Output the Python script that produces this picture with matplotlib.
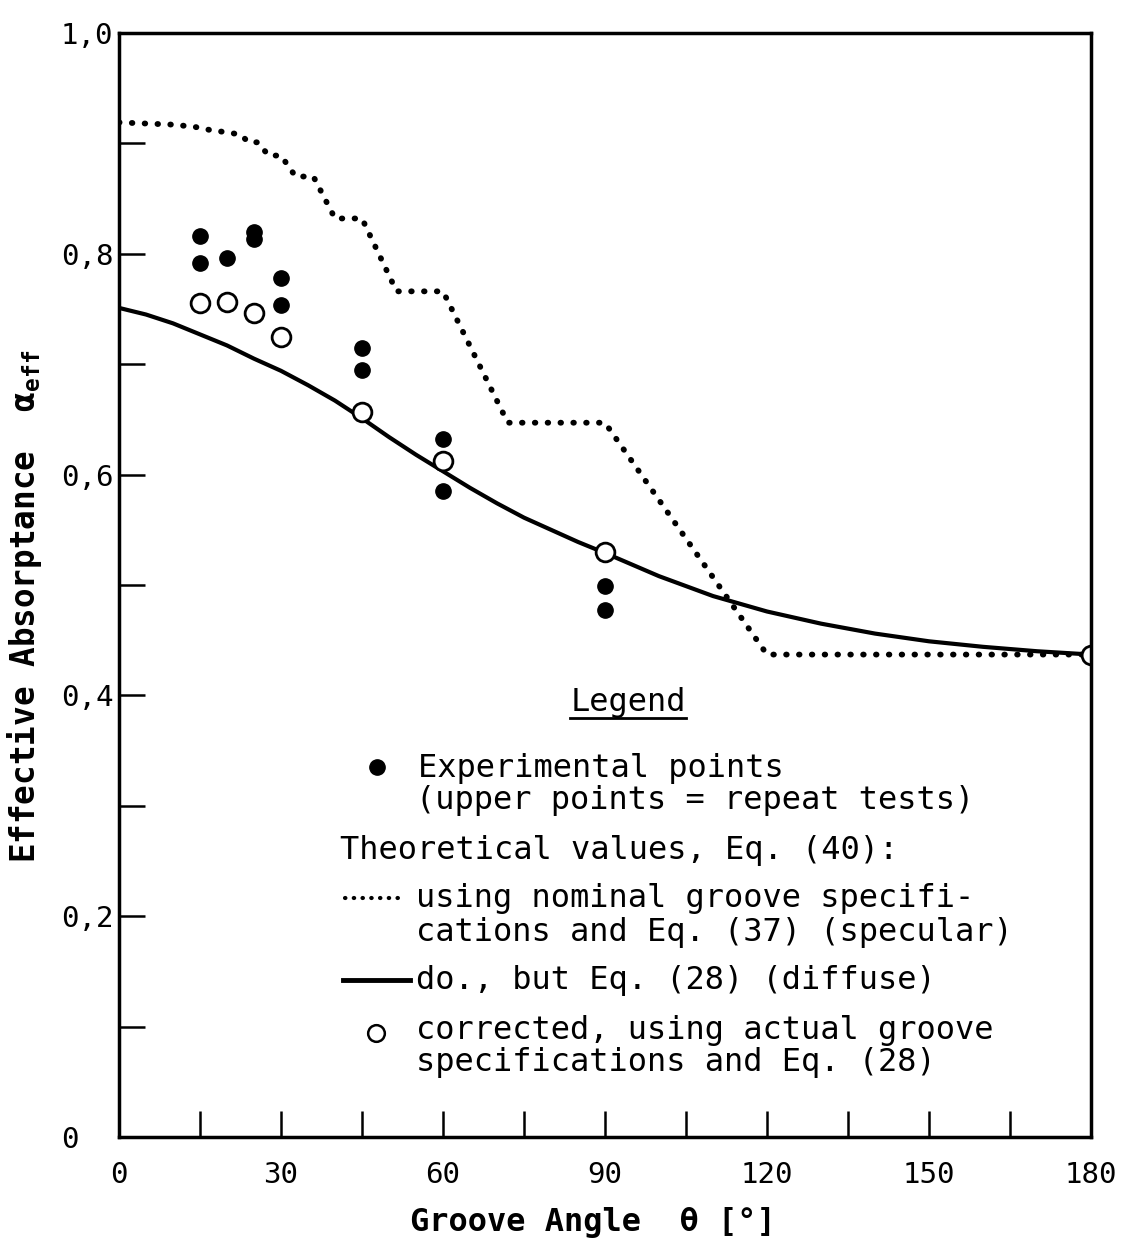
import matplotlib.pyplot as plt

plt.rcParams['font.family'] = 'DejaVu Sans Mono'
plt.rcParams['mathtext.fontset'] = 'custom'
plt.rcParams['mathtext.rm'] = 'DejaVu Sans Mono'
plt.rcParams['mathtext.bf'] = 'DejaVu Sans Mono:bold'

# experimental points (filled)
theta_exp = [15, 15, 20, 25, 25, 30, 30, 45, 45, 60, 60, 90, 90]
alpha_exp = [0.816, 0.792, 0.796, 0.820, 0.813, 0.778, 0.754, 0.715, 0.695, 0.632, 0.585, 0.499, 0.477]

# corrected values (open circles)
theta_corr = [15, 20, 25, 30, 45, 60, 90, 180]
alpha_corr = [0.755, 0.756, 0.746, 0.725, 0.657, 0.612, 0.530, 0.437]

# theoretical, diffuse (solid line)
theta_diff = [0, 5, 10, 15, 20, 25, 30, 35, 40, 45, 50, 55, 60, 65, 70, 75, 80, 85, 90,
              100, 110, 120, 130, 140, 150, 160, 170, 180]
alpha_diff = [0.751, 0.745, 0.737, 0.727, 0.717, 0.705, 0.694, 0.681, 0.667, 0.651, 0.634,
              0.618, 0.603, 0.588, 0.574, 0.561, 0.550, 0.539, 0.529,
              0.508, 0.490, 0.476, 0.465, 0.456, 0.449, 0.444, 0.440, 0.437]

# theoretical, specular (dotted line)
theta_spec = [0, 5, 10, 14, 17, 20, 22.5, 24, 25.7, 27.7, 30, 32.7, 36, 40, 45, 51.4, 60, 72, 90, 120, 180]
alpha_spec = [0.919, 0.918, 0.917, 0.915, 0.912, 0.910, 0.908, 0.901, 0.901, 0.889, 0.889, 0.870,
              0.870, 0.832, 0.832, 0.766, 0.766, 0.647, 0.647, 0.437, 0.437]

xtick_vals = [0, 30, 60, 90, 120, 150, 180]
xtick_labels = ['0', '30', '60', '90', '120', '150', '180']
ytick_vals = [0, 0.2, 0.4, 0.6, 0.8, 1.0]
ytick_labels = ['0', '0,2', '0,4', '0,6', '0,8', '1,0']

W, H = 1122, 1239
fig = plt.figure(figsize=(W / 100, H / 100), dpi=100)
ax = fig.add_axes([119 / W, 1 - 1137 / H, 972 / W, 1104 / H])

ax.plot(theta_spec, alpha_spec, color='black', lw=4.2, linestyle=(0, (0.1, 2.1)),
        dash_capstyle='round', zorder=2)
ax.plot(theta_diff, alpha_diff, color='black', lw=3, zorder=3)
ax.plot(theta_exp, alpha_exp, 'o', color='black', ms=11, zorder=4)
ax.plot(theta_corr, alpha_corr, 'o', mfc='white', mec='black', mew=2, ms=13.5, zorder=5)

ax.set_xlim(0, 180)
ax.set_ylim(0, 1)
ax.set_xticks(xtick_vals)
ax.set_xticklabels(xtick_labels)
ax.set_xticks([15, 45, 75, 105, 135, 165], minor=True)
ax.set_yticks(ytick_vals)
ax.set_yticklabels(ytick_labels)
ax.set_yticks([0.1, 0.3, 0.5, 0.7, 0.9], minor=True)
ax.tick_params(which='both', direction='in', length=19, width=1.8, labelsize=21)
ax.tick_params(axis='x', pad=17)
ax.tick_params(axis='y', pad=42)
for lab in ax.get_yticklabels():
    lab.set_ha('left')
for sp in ax.spines.values():
    sp.set_linewidth(2.5)
    sp.set_zorder(6)

fig.text(25 / W, 1 - 606 / H, 'Effective Absorptance  α$_\\mathbf{eff}$', rotation=90,
         ha='center', va='center', fontsize=23.5, fontweight='bold')
fig.text(593 / W, 1 - 1222 / H, 'Groove Angle  θ [°]', ha='center', va='center',
         fontsize=23, fontweight='bold')


# legend drawn by hand, positions in pixels of the figure
def axy(px, py):
    return (px - 119) / 972, (1137 - py) / 1104


tr = ax.transAxes
ax.text(*axy(628, 703), 'Legend', ha='center', va='center', fontsize=23, transform=tr)
ax.plot(*zip(axy(570, 718), axy(686, 718)), color='black', lw=2, transform=tr, clip_on=False)

ax.plot(*axy(377, 767), 'o', color='black', ms=11, transform=tr)
ax.plot(*zip(axy(345, 898), axy(403, 898)), color='black', lw=3, linestyle=(0, (0.1, 2.0)),
        dash_capstyle='round', transform=tr)
ax.plot(*zip(axy(343, 980), axy(410, 980)), color='black', lw=3.5, transform=tr)
ax.plot(*axy(376, 1033), 'o', mfc='white', mec='black', mew=1.8, ms=12, transform=tr)

legend_lines = [
    ('Experimental points', 418, 769),
    ('(upper points = repeat tests)', 416, 801),
    ('Theoretical values, Eq. (40):', 340, 851),
    ('using nominal groove specifi-', 416, 899),
    ('cations and Eq. (37) (specular)', 416, 932),
    ('do., but Eq. (28) (diffuse)', 416, 980),
    ('corrected, using actual groove', 416, 1031),
    ('specifications and Eq. (28)', 416, 1062),
]
for txt, px, py in legend_lines:
    ax.text(*axy(px, py), txt, ha='left', va='center', fontsize=23, transform=tr)

fig.savefig('out.png', dpi=100)
